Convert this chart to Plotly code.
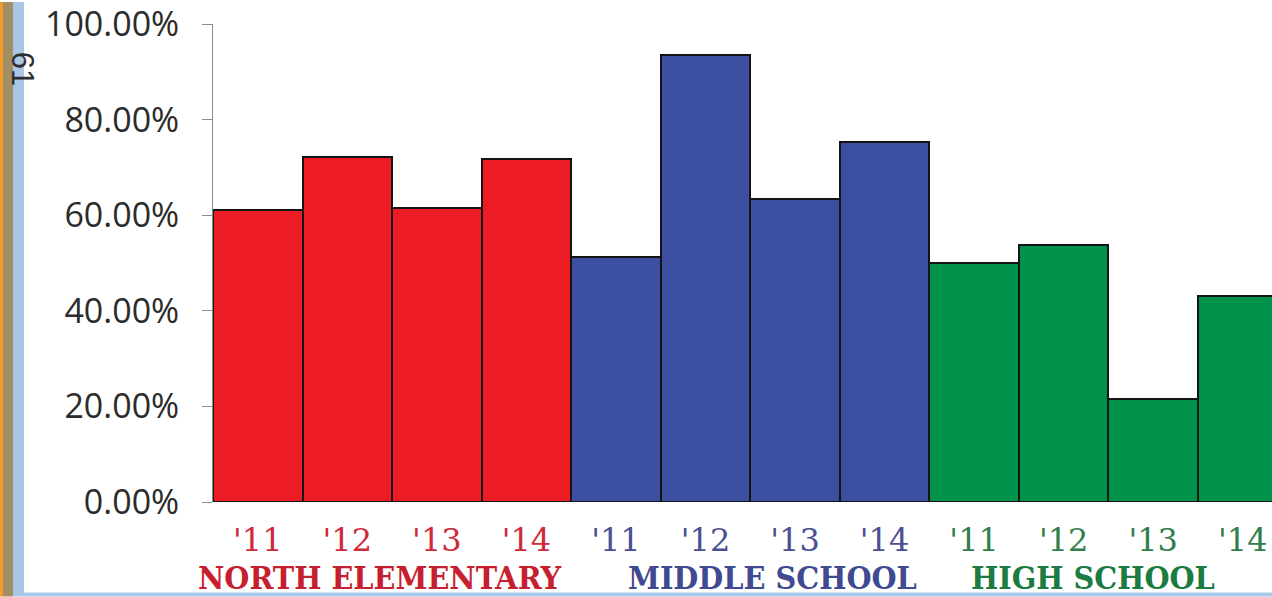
import plotly.graph_objects as go

# Share of students per school and year
schools = ["NORTH ELEMENTARY", "MIDDLE SCHOOL", "HIGH SCHOOL"]
years = ["'11", "'12", "'13", "'14"]
north_elementary = [0.610, 0.721, 0.615, 0.717]
middle_school = [0.513, 0.935, 0.633, 0.753]
high_school = [0.499, 0.537, 0.215, 0.431]
y_ticks = [0.0, 0.2, 0.4, 0.6, 0.8, 1.0]
page_number = "61"

bar_colors = ["#ED1C24", "#3D4FA0", "#00924A"]
year_colors = ["#CF2A3B", "#4B4F93", "#2F7E4C"]
label_colors = ["#C61F30", "#3F4A91", "#1B7B40"]

W, H = 1272, 597
L, R, T, B = 213, 0, 22, 95
plot_w = W - L - R
plot_h = H - T - B


def px_x(px):
    return (px - L) / plot_w


def px_y(py):
    return (H - B - py) / plot_h


series = [north_elementary, middle_school, high_school]
fig = go.Figure()
tickvals, ticktext = [], []
idx = 0
for g, vals in enumerate(series):
    xs = list(range(idx, idx + len(vals)))
    fig.add_trace(go.Bar(
        x=xs, y=vals, name=schools[g],
        marker=dict(color=bar_colors[g], line=dict(color="#141414", width=2)),
        width=1.0, showlegend=False, hoverinfo="skip",
    ))
    for i, x in enumerate(xs):
        tickvals.append(x)
        ticktext.append(f'<span style="color:{year_colors[g]}">{years[i]}</span>')
    idx += len(vals)

# group captions under the year labels
group_shift = [-12, 22, -15]
start = 0
for g, vals in enumerate(series):
    center = start + (len(vals) - 1) / 2
    fig.add_annotation(
        x=center, xref="x", y=px_y(578), yref="paper",
        text=f"<b>{schools[g]}</b>", showarrow=False, xshift=group_shift[g],
        font=dict(family="DejaVu Serif Condensed", size=32, color=label_colors[g]),
        xanchor="center", yanchor="middle",
    )
    start += len(vals)

# page decoration: coloured edge strips and page number
strips = [
    dict(x0=0, x1=3, y0=0, y1=H, color="#F39A2B"),
    dict(x0=3, x1=13, y0=0, y1=H, color="#A38F66"),
    dict(x0=13, x1=24, y0=0, y1=H, color="#A9C6E6"),
    dict(x0=24, x1=W, y0=593, y1=H, color="#A9C6E6"),
]
for s in strips:
    fig.add_shape(type="rect", xref="paper", yref="paper",
                  x0=px_x(s["x0"]), x1=px_x(s["x1"]),
                  y0=px_y(s["y1"]), y1=px_y(s["y0"]),
                  fillcolor=s["color"], line=dict(width=0), layer="above")

fig.add_annotation(
    x=px_x(22), xref="paper", y=px_y(67), yref="paper",
    text=page_number, textangle=90, showarrow=False,
    font=dict(family="Liberation Sans", size=31, color="#2E2E2E"),
    xanchor="center", yanchor="middle",
)

n_bars = idx
fig.update_layout(
    width=W, height=H,
    margin=dict(l=L, r=R, t=T, b=B, pad=0),
    paper_bgcolor="white", plot_bgcolor="white",
    bargap=0, barmode="overlay",
    xaxis=dict(
        range=[-0.5, n_bars - 0.5 - 15.5 / 89.5],
        tickvals=tickvals, ticktext=ticktext,
        showgrid=False, zeroline=False, showline=False, ticks="",
        tickfont=dict(family="DejaVu Serif", size=32),
        ticklabelstandoff=16, ticklabeloverflow="allow",
    ),
    yaxis=dict(
        range=[0, 1], tickvals=y_ticks, tickformat=".2%",
        showgrid=False, zeroline=False,
        showline=True, linecolor="#8C8C8C", linewidth=1,
        ticks="outside", ticklen=10, tickcolor="#8C8C8C", tickwidth=1,
        tickfont=dict(family="Open Sans", size=34, color="#2B2B2B"),
        ticklabelstandoff=16, ticklabeloverflow="allow",
    ),
)

fig.write_html("out.html")
